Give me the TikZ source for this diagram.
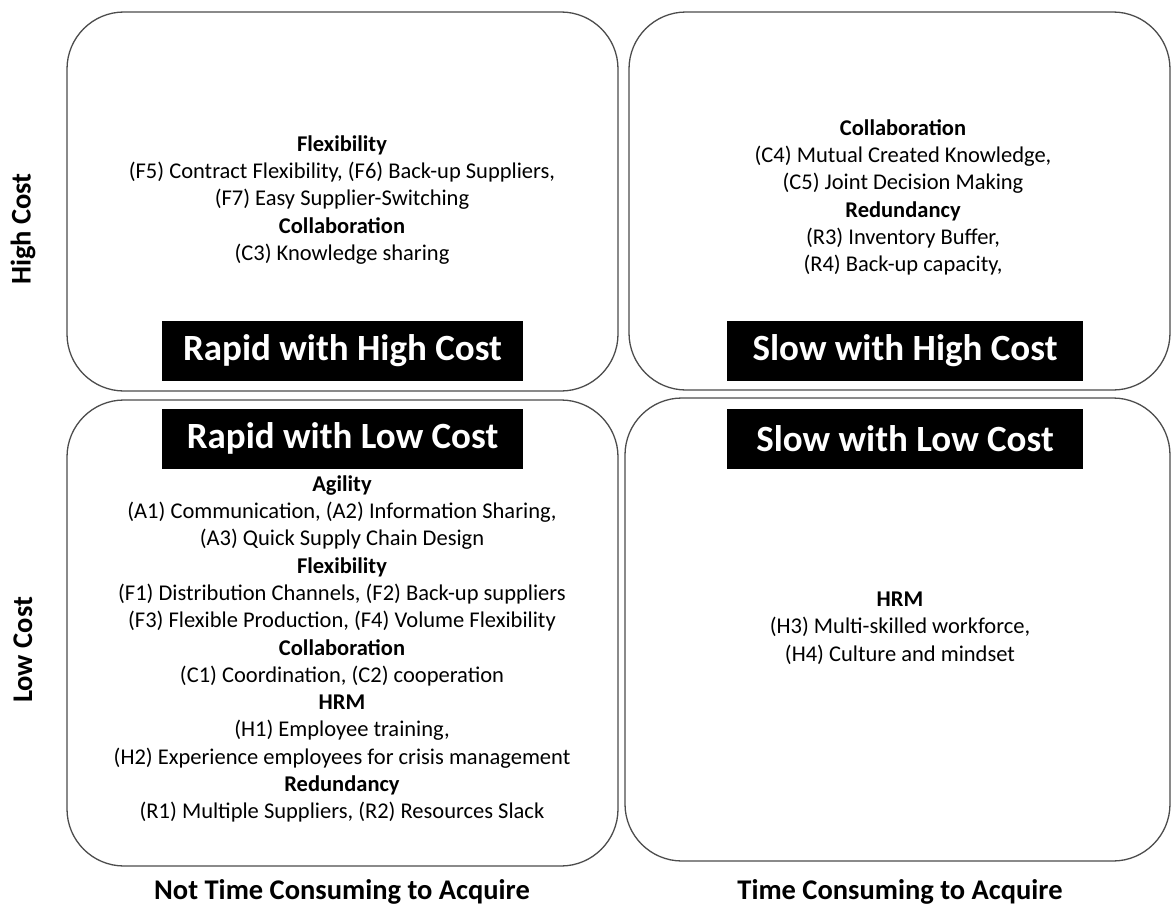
\documentclass[tikz,border=0pt]{standalone}
\usepackage{fontspec}
\setmainfont{Carlito}

\begin{document}
\begin{tikzpicture}
  [
    x=1pt, y=-1pt,
    quadrant/.style={draw=black!70, line width=1.3pt, rounded corners=57pt, inner sep=0pt},
    banner/.style={fill=black, text=white, inner sep=0pt, minimum height=60pt,
      font=\fontsize{37}{44}\selectfont\bfseries},
    items/.style={align=center, font=\fontsize{22.5}{27.3}\selectfont},
    axis label/.style={font=\fontsize{28.5}{34}\selectfont\bfseries}
  ]
  \useasboundingbox (0,0) rectangle (1171,907);

  \node[quadrant, minimum width=551pt, minimum height=379pt] (rapid high) at (342.5,201.5) {};
  \node[quadrant, minimum width=541pt, minimum height=378pt] (slow high) at (899.5,201) {};
  \node[quadrant, minimum width=551pt, minimum height=466pt] (rapid low) at (342.5,633) {};
  \node[quadrant, minimum width=545pt, minimum height=463pt] (slow low) at (897.5,629.5) {};

  \node[banner, minimum width=361pt] (rapid high title) at (342.5,351) {Rapid with High Cost};
  \node[banner, minimum width=356pt] (slow high title) at (905,351) {Slow with High Cost};
  \node[banner, minimum width=361pt] (rapid low title) at (342.5,438.5) {Rapid with Low Cost};
  \node[banner, minimum width=356pt] (slow low title) at (905,438.5) {Slow with Low Cost};

  \node[items] (rapid high items) at (342,200)
    {\textbf{Flexibility}\\
     (F5) Contract Flexibility, (F6) Back-up Suppliers,\\
     (F7) Easy Supplier-Switching\\
     \textbf{Collaboration}\\
     (C3) Knowledge sharing};
  \node[items] (slow high items) at (903,197.5)
    {\textbf{Collaboration}\\
     (C4) Mutual Created Knowledge,\\
     (C5) Joint Decision Making\\
     \textbf{Redundancy}\\
     (R3) Inventory Buffer,\\
     (R4) Back-up capacity,};
  \node[items] (rapid low items) at (342,649)
    {\textbf{Agility}\\
     (A1) Communication, (A2) Information Sharing,\\
     (A3) Quick Supply Chain Design\\
     \textbf{Flexibility}\\
     (F1) Distribution Channels, (F2) Back-up suppliers\\
     (F3) Flexible Production, (F4) Volume Flexibility\\
     \textbf{Collaboration}\\
     (C1) Coordination, (C2) cooperation\\
     \textbf{HRM}\\
     (H1) Employee training,\\
     (H2) Experience employees for crisis management\\
     \textbf{Redundancy}\\
     (R1) Multiple Suppliers, (R2) Resources Slack};
  \node[items] (slow low items) at (900,628)
    {\textbf{HRM}\\
     (H3) Multi-skilled workforce,\\
     (H4) Culture and mindset};

  \node[axis label, rotate=90] (high cost) at (23,229) {High Cost};
  \node[axis label, rotate=90] (low cost) at (23,650) {Low Cost};
  \node[axis label, anchor=base] (not time) at (342,899) {Not Time Consuming to Acquire};
  \node[axis label, anchor=base] (time) at (900,899) {Time Consuming to Acquire};
\end{tikzpicture}
\end{document}
